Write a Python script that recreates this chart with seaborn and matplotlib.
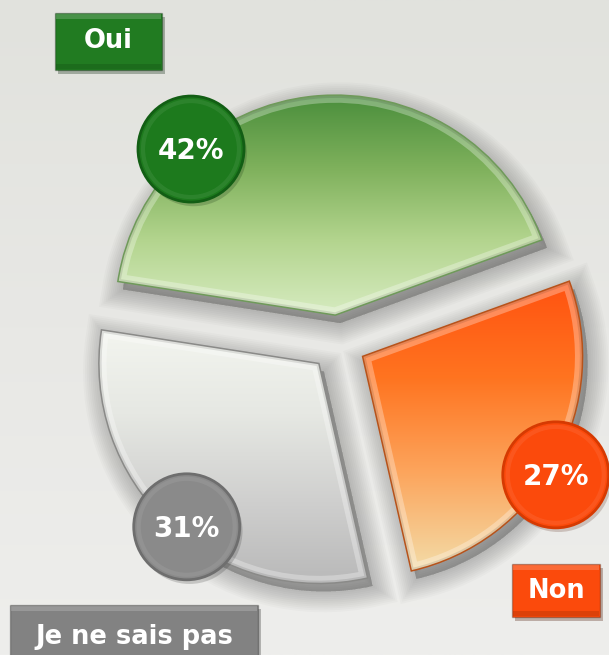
import numpy as np
import matplotlib
matplotlib.use("Agg")
import matplotlib.pyplot as plt
import seaborn as sns
from matplotlib.colors import LinearSegmentedColormap
from matplotlib.patches import Circle, Rectangle, PathPatch
from matplotlib.transforms import Affine2D
import matplotlib.patheffects as pe

# data
labels = ['Oui', 'Je ne sais pas', 'Non']
values = [42, 31, 27]
pct_labels = ['42%', '31%', '27%']

# styling
slice_grads = [['#4a8e3c', '#7fb15c', '#b4d58f', '#d6ebc0'],
               ['#f3f5ef', '#e6e8e3', '#d0d0cf', '#b9b9b9'],
               ['#ff5210', '#ff7420', '#fca65e', '#f3dca8']]
slice_edges = ['#6f9a5a', '#8a8a88', '#b7531b']
bubble_colors = ['#1d7a1d', '#8a8a8a', '#fb4a0c']
bubble_edges = ['#125e14', '#6e6e6e', '#d63a02']
box_colors = ['#217b21', '#828282', '#fb4a0c']
# bubble placement: fraction along the wedge angle, radial distance (x radius)
bubble_pos = [(0.734, 1.0), (0.536, 0.955), (0.47, 1.03)]

sns.set_theme(style='white')
plt.rcParams['font.family'] = ['DejaVu Sans']

W, H = 609, 655
fig = plt.figure(figsize=(6.09, 6.55), dpi=100)
ax = fig.add_axes([0, 0, 1, 1])

# soft background
bg_cmap = LinearSegmentedColormap.from_list('bg', ['#e1e2dd', '#e8e8e5', '#eeeeec'])
ax.imshow(np.linspace(0, 1, 256)[:, None], cmap=bg_cmap, extent=[0, W, 0, H],
          origin='upper', aspect='auto', zorder=0)

wedges, _ = ax.pie(values, colors=[g[1] for g in slice_grads], startangle=20,
                   counterclock=True, center=(338, 312), radius=220,
                   explode=[28, 28, 28], frame=True,
                   wedgeprops=dict(linewidth=0))

for i, w in enumerate(wedges):
    path = w.get_path()
    # soft shadow
    shp = path.transformed(Affine2D().translate(5, -8))
    for lw in np.linspace(30, 0, 12):
        ax.add_patch(PathPatch(shp, facecolor=(0, 0, 0, 0.018), edgecolor=(0, 0, 0, 0.018),
                               linewidth=lw, zorder=1))
    # gradient fill clipped to the slice
    ext = path.get_extents()
    cmap = LinearSegmentedColormap.from_list(f's{i}', slice_grads[i])
    im = ax.imshow(np.linspace(0, 1, 256)[:, None], cmap=cmap,
                   extent=[ext.x0, ext.x1, ext.y0, ext.y1], origin='upper',
                   aspect='auto', zorder=2)
    im.set_clip_path(w)
    w.set_facecolor('none')
    w.set_zorder(3)
    # bevel: light inner rim + thin dark outline
    rim = PathPatch(path, facecolor='none', edgecolor=(1, 1, 1, 0.3), linewidth=11, zorder=3)
    ax.add_patch(rim)
    rim.set_clip_path(w)
    rim2 = PathPatch(path, facecolor='none', edgecolor=(0, 0, 0, 0.1), linewidth=4, zorder=3)
    ax.add_patch(rim2)
    rim2.set_clip_path(w)
    ax.add_patch(PathPatch(path, facecolor='none', edgecolor=slice_edges[i], linewidth=1.1, zorder=4))

    # percentage bubble
    f, rr = bubble_pos[i]
    ang = np.deg2rad(w.theta1 + f * (w.theta2 - w.theta1))
    cx = w.center[0] + rr * w.r * np.cos(ang)
    cy = w.center[1] + rr * w.r * np.sin(ang)
    c = Circle((cx, cy), 53, facecolor=bubble_colors[i], edgecolor=bubble_edges[i], linewidth=2,
               zorder=5, path_effects=[pe.SimplePatchShadow(offset=(2, -3), alpha=0.2), pe.Normal()])
    ax.add_patch(c)
    ax.add_patch(Circle((cx, cy), 48, facecolor='none', edgecolor=(1, 1, 1, 0.07), linewidth=3, zorder=5))
    ax.text(cx, cy - 2, pct_labels[i], color='white', fontsize=20, fontweight='bold',
            ha='center', va='center', zorder=6)

# category boxes (x, y, w, h in px, y from bottom)
boxes = [(55, 585, 107, 57), (10, -8, 248, 58), (512, 38, 88, 53)]
for i, (bx, by, bw, bh) in enumerate(boxes):
    r = Rectangle((bx, by), bw, bh, facecolor=box_colors[i], edgecolor=(0, 0, 0, 0.25), linewidth=1,
                  zorder=5, path_effects=[pe.SimplePatchShadow(offset=(2, -3), alpha=0.3), pe.Normal()])
    ax.add_patch(r)
    ax.add_patch(Rectangle((bx + 1, by + bh - 6), bw - 2, 5, facecolor=(1, 1, 1, 0.18),
                           linewidth=0, zorder=5))
    ax.add_patch(Rectangle((bx + 1, by + 1), bw - 2, 5, facecolor=(0, 0, 0, 0.12),
                           linewidth=0, zorder=5))
    ty = by + bh / 2 if i != 1 else 18
    ax.text(bx + bw / 2, ty, labels[i], color='white', fontsize=18.5, fontweight='bold',
            ha='center', va='center', zorder=6)

ax.set_xlim(0, W)
ax.set_ylim(0, H)
ax.set_aspect('auto')
ax.axis('off')

fig.savefig('out.png', dpi=100)
